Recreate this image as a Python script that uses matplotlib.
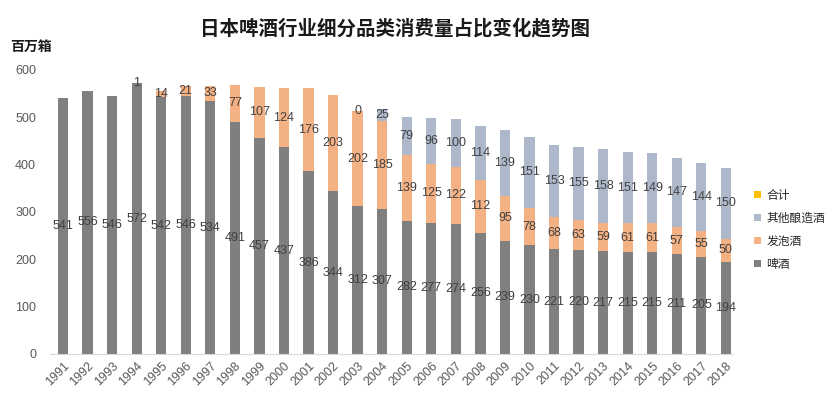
import matplotlib
matplotlib.use("Agg")
import matplotlib.pyplot as plt
from matplotlib.patches import Patch
import numpy as np

plt.rcParams['font.family'] = ['Liberation Sans', 'Noto Sans CJK SC', 'DejaVu Sans']

years = [str(y) for y in range(1991, 2019)]
beer = [541, 556, 546, 572, 542, 546, 534, 491, 457, 437, 386, 344, 312, 307,
        282, 277, 274, 256, 239, 230, 221, 220, 217, 215, 215, 211, 205, 194]
happoshu = [None, None, None, 1, 14, 21, 33, 77, 107, 124, 176, 203, 202, 185,
            139, 125, 122, 112, 95, 78, 68, 63, 59, 61, 61, 57, 55, 50]
other = [None] * 12 + [0, 25, 79, 96, 100, 114, 139, 151, 153, 155, 158, 151,
                       149, 147, 144, 150]

title = "日本啤酒行业细分品类消费量占比变化趋势图"
unit = "百万箱"
names = ["合计", "其他酿造酒", "发泡酒", "啤酒"]
colors = {"合计": "#ffc000", "其他酿造酒": "#adb9ca", "发泡酒": "#f4b183", "啤酒": "#7f7f7f"}

fig = plt.figure(figsize=(8.32, 3.98), dpi=100)
ax = fig.add_axes([50 / 832, 1 - 354 / 398, 683 / 832, 284 / 398])

x = np.arange(len(years))
w = 0.42
lab_col = "#404040"
fs = 9

b = np.array(beer, dtype=float)
h = np.array([v if v is not None else 0 for v in happoshu], dtype=float)
o = np.array([v if v is not None else 0 for v in other], dtype=float)

ax.bar(x, b, width=w, color=colors["啤酒"], zorder=2)
ax.bar(x, h, width=w, bottom=b, color=colors["发泡酒"], zorder=2)
ax.bar(x, o, width=w, bottom=b + h, color=colors["其他酿造酒"], zorder=2)

for i in range(len(years)):
    ax.text(x[i], b[i] / 2, str(beer[i]), ha="center", va="center",
            fontsize=fs, color=lab_col, zorder=3)
    if happoshu[i] is not None:
        ax.text(x[i], b[i] + h[i] / 2, str(happoshu[i]), ha="center", va="center",
                fontsize=fs, color=lab_col, zorder=3)
    if other[i] is not None:
        ax.text(x[i], b[i] + h[i] + o[i] / 2, str(other[i]), ha="center", va="center",
                fontsize=fs, color=lab_col, zorder=3)

ax.set_ylim(0, 600)
ax.set_yticks(range(0, 601, 100))
ax.set_xlim(-0.53, 27.29)
ax.set_xticks(x)
ax.set_xticklabels(years, rotation=45, ha="right", rotation_mode="anchor")
ax.tick_params(axis="both", length=0, labelsize=9, labelcolor="#595959")
ax.tick_params(axis="y", pad=10)
ax.tick_params(axis="x", pad=4)
for s in ["top", "right", "left"]:
    ax.spines[s].set_visible(False)
ax.spines["bottom"].set_color("#d9d9d9")

fig.text(395 / 832, 1 - 28 / 398, title, ha="center", va="center",
         fontsize=14, fontweight="bold", color="#1a1a1a",
         family=["Noto Sans CJK SC", "DejaVu Sans"])
fig.text(10 / 832, 1 - 47 / 398, unit, ha="left", va="center",
         fontsize=10, fontweight="bold", color="#1a1a1a",
         family=["Noto Sans CJK SC", "DejaVu Sans"])

handles = [Patch(facecolor=colors[n], edgecolor="none", label=n) for n in names]
fig.legend(handles=handles, loc="upper left", bbox_to_anchor=(743 / 832, 1 - 178 / 398),
           frameon=False, handlelength=0.6, handleheight=0.6, handletextpad=0.5,
           labelspacing=0.85, prop={"family": ["Noto Sans CJK SC"], "size": 8.5},
           labelcolor="#262626")

fig.savefig("out.png", dpi=100)
